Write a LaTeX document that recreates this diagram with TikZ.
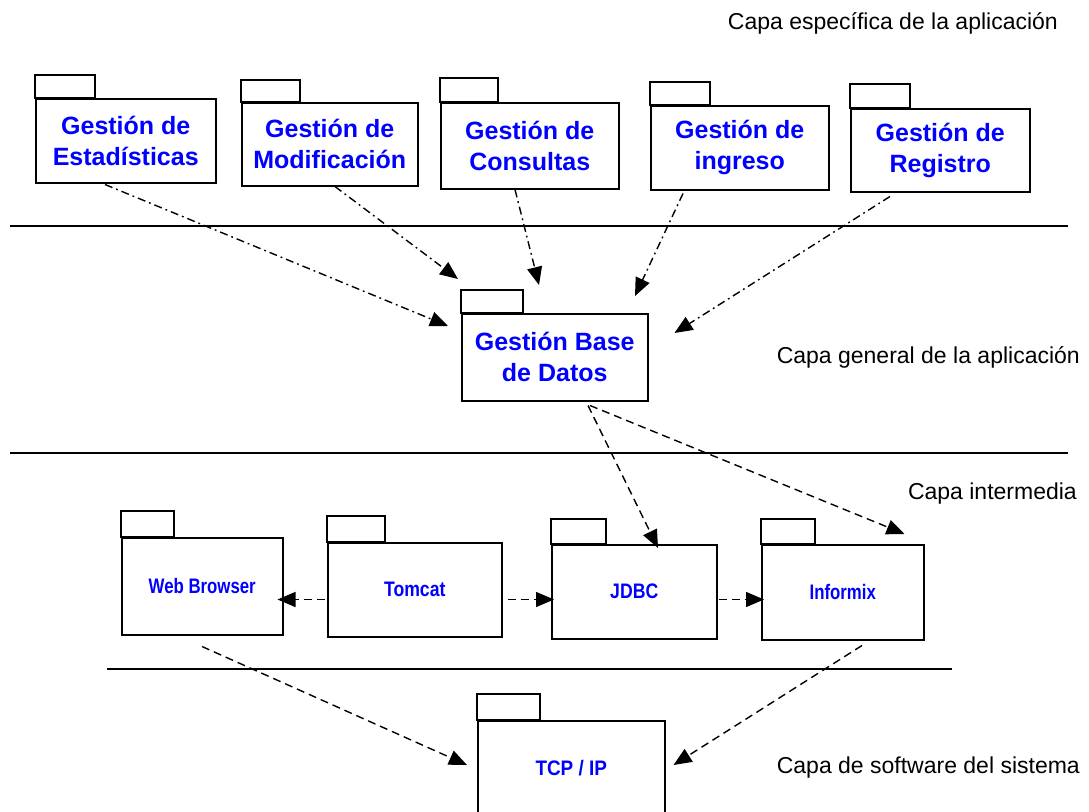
\documentclass[tikz,border=0pt]{standalone}
\usepackage{fontspec}
\setmainfont{Liberation Sans}
\usepackage{graphicx}
\usetikzlibrary{arrows.meta,calc}
\begin{document}
\begin{tikzpicture}[x=1pt,y=-1pt,
  pkg/.style={draw,line width=1.5pt,anchor=north west,align=center,text=blue,
    font=\fontsize{25}{31}\selectfont\bfseries,inner sep=0pt},
  lowpkg/.style={pkg,font=\fontsize{21}{25}\selectfont\bfseries},
  tab/.style={draw,line width=1.5pt},
  tip/.style={-{Triangle[length=18pt,width=15pt]}},
  dd/.style={tip,line width=1.4pt,dash pattern=on 8pt off 4pt on 1.8pt off 4pt},
  ds/.style={tip,line width=1.4pt,dash pattern=on 8pt off 5pt},
  layer/.style={line width=2pt},
  capa/.style={anchor=base east,font=\fontsize{23}{27}\selectfont,inner sep=0pt}]
\useasboundingbox (0,0) rectangle (1089,811);
\clip (0,0) rectangle (1089,811);

% layer separators
\draw[layer] (10,226) -- (1068,226);
\draw[layer] (10,453) -- (1068,453);
\draw[layer] (107,669) -- (952,669);

% layer labels
\node[capa] (l1) at (1058,29) {Capa específica de la aplicación};
\node[capa] (l2) at (1080,363) {Capa general de la aplicación};
\node[capa] (l3) at (1077,499) {Capa intermedia};
\node[capa] (l4) at (1080,773) {Capa de software del sistema};

% top packages
\node[pkg,minimum width=180pt,minimum height=84pt] (est) at (35,98) {Gestión de\\Estadísticas};
\draw[tab] (est.north west) rectangle ++(60,-23);
\node[pkg,minimum width=176pt,minimum height=83pt] (mod) at (241,102) {Gestión de\\Modificación};
\draw[tab] (mod.north west) rectangle ++(59,-22);
\node[pkg,minimum width=178pt,minimum height=86pt] (con) at (440,102) {Gestión de\\Consultas};
\draw[tab] (con.north west) rectangle ++(58,-24);
\node[pkg,minimum width=178pt,minimum height=84pt] (ing) at (650,105) {Gestión de\\ingreso};
\draw[tab] (ing.north west) rectangle ++(60,-23);
\node[pkg,minimum width=179pt,minimum height=83pt] (reg) at (850,108) {Gestión de\\Registro};
\draw[tab] (reg.north west) rectangle ++(60,-24);

% middle package
\node[pkg,minimum width=186pt,minimum height=87pt] (base) at (461,313) {Gestión Base\\de Datos};
\draw[tab] (base.north west) rectangle ++(62,-23);

% lower packages
\node[lowpkg,minimum width=161pt,minimum height=97pt] (web) at (121,537) {\scalebox{0.8}[1]{Web Browser}};
\draw[tab] (web.north west) rectangle ++(53,-26);
\node[lowpkg,minimum width=174pt,minimum height=94pt] (tom) at (327,542) {\scalebox{0.84}[1]{Tomcat}};
\draw[tab] (tom.north west) rectangle ++(58,-26);
\node[lowpkg,minimum width=165pt,minimum height=94pt] (jdbc) at (551,544) {\scalebox{0.84}[1]{JDBC}};
\draw[tab] (jdbc.north west) rectangle ++(55,-25);
\node[lowpkg,minimum width=162pt,minimum height=95pt] (inf) at (761,544) {\scalebox{0.8}[1]{Informix}};
\draw[tab] (inf.north west) rectangle ++(54,-25);
\node[lowpkg,minimum width=187pt,minimum height=94pt] (tcp) at (477,720) {\scalebox{0.9}[1]{TCP / IP}};
\draw[tab] (tcp.north west) rectangle ++(63,-26);

% dependencies to Base de Datos
\draw[dd] ($(est.south west)+(70,1)$) -- ($(base.north west)+(-13,13)$);
\draw[dd] ($(mod.south west)+(94,0)$) -- ($(base.north west)+(-3,-34)$);
\draw[dd] ($(con.south west)+(75,0)$) -- ($(base.north west)+(78,-28)$);
\draw[dd] ($(ing.south west)+(33,3)$) -- ($(base.north west)+(174,-17)$);
\draw[dd] ($(reg.south west)+(40,4)$) -- ($(base.north east)+(26,20)$);

% Base de Datos to JDBC / Informix
\draw[ds] ($(base.south west)+(127,4)$) -- ($(jdbc.north west)+(107,4)$);
\draw[ds] ($(base.south west)+(129,4)$) -- ($(inf.north east)+(-20,-10)$);

% intermediate layer
\draw[ds] ($(tom.south west)+(-2,-38)$) -- ($(web.south east)+(-6,-36)$);
\draw[ds] ($(tom.south east)+(5,-38)$) -- ($(jdbc.south west)+(3,-40)$);
\draw[ds] ($(jdbc.south east)+(1,-40)$) -- ($(inf.south west)+(3,-41)$);

% to TCP/IP
\draw[ds] ($(web.south west)+(81,11)$) -- ($(tcp.north west)+(-10,45)$);
\draw[ds] ($(inf.south west)+(101,5)$) -- ($(tcp.north east)+(8,45)$);
\end{tikzpicture}
\end{document}
